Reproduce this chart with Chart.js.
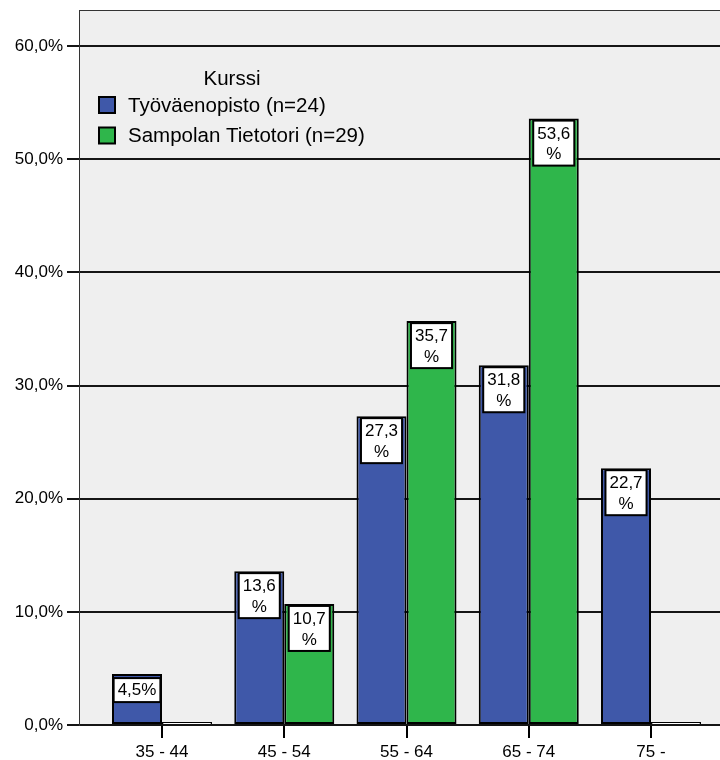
<!DOCTYPE html>
<html>
<head>
<meta charset="utf-8">
<script src="https://cdn.jsdelivr.net/npm/chart.js@4"></script>
<style>
  html, body { margin: 0; padding: 0; background: #fff; overflow: hidden; }
  #wrap { width: 720px; height: 760px; overflow: hidden; }
</style>
</head>
<body>
<div id="wrap"><canvas id="c" width="740" height="760"></canvas></div>
<script>
// Age groups and share of participants (%) per course
const ageGroups = ['35 - 44', '45 - 54', '55 - 64', '65 - 74', '75 -'];
const tyovaenopisto = [4.5, 13.6, 27.3, 31.8, 22.7];
const sampolanTietotori = [0, 10.7, 35.7, 53.6, 0];
const seriesNames = ['Työväenopisto (n=24)', 'Sampolan Tietotori (n=29)'];
const legendTitle = 'Kurssi';
const yTicks = [0, 10, 20, 30, 40, 50, 60];

const FONT = "'Liberation Sans', Arial, Helvetica, sans-serif";
const BLUE = '#3f58a9';
const GREEN = '#2fb64b';
const fmt = v => v.toFixed(1).replace('.', ',');

const isZero = ctx => ctx.raw && ctx.raw.y === 0;

function makeDataset(label, values, color) {
  return {
    label,
    data: values.map((y, i) => ({ x: i, y })),
    backgroundColor: ctx => isZero(ctx) ? '#ffffff' : color,
    legendColor: color,
    borderColor: '#000',
    borderWidth: ctx => isZero(ctx) ? { top: 1.5, left: 1.5, right: 1.5, bottom: 0 } : 2,
    borderSkipped: false,
    minBarLength: 3,
    categoryPercentage: 0.818,
    barPercentage: 1
  };
}

// gray plot background and top frame line
const plotFrame = {
  id: 'plotFrame',
  beforeDraw(chart) {
    const { ctx, chartArea: a } = chart;
    ctx.save();
    ctx.fillStyle = '#efefef';
    ctx.fillRect(a.left, a.top, a.right - a.left, a.bottom - a.top);
    ctx.restore();
  },
  afterDraw(chart) {
    const { ctx, chartArea: a } = chart;
    ctx.save();
    ctx.strokeStyle = '#333';
    ctx.lineWidth = 1;
    ctx.beginPath();
    ctx.moveTo(a.left, a.top + 0.5);
    ctx.lineTo(a.right, a.top + 0.5);
    ctx.stroke();
    ctx.restore();
  }
};

// boxed percentage labels at the top of each bar
const valueBoxes = {
  id: 'valueBoxes',
  afterDatasetsDraw(chart) {
    const { ctx } = chart;
    ctx.save();
    ctx.font = '17px ' + FONT;
    ctx.textAlign = 'center';
    ctx.textBaseline = 'middle';
    chart.data.datasets.forEach((ds, di) => {
      const meta = chart.getDatasetMeta(di);
      meta.data.forEach((bar, i) => {
        const v = ds.data[i].y;
        if (!v) return;
        const txt = fmt(v);
        const one = txt + '%';
        const w1 = ctx.measureText(one).width;
        let lines, w;
        if (w1 + 8 <= bar.width) {
          lines = [one]; w = w1 + 8;
        } else {
          lines = [txt, '%']; w = ctx.measureText(txt).width + 8;
        }
        const h = lines.length === 1 ? 24 : 45;
        const x = bar.x - w / 2;
        const y = lines.length === 1 ? bar.y + 4 : bar.y + 2;
        ctx.fillStyle = '#fff';
        ctx.fillRect(x, y, w, h);
        ctx.strokeStyle = '#000';
        ctx.lineWidth = 2;
        ctx.strokeRect(x, y, w, h);
        ctx.fillStyle = '#000';
        if (lines.length === 1) {
          ctx.fillText(lines[0], bar.x, y + 12.5);
        } else {
          ctx.fillText(lines[0], bar.x, y + 13.5);
          ctx.fillText(lines[1], bar.x, y + 34);
        }
      });
    });
    ctx.restore();
  }
};

// legend drawn inside the plot area
const innerLegend = {
  id: 'innerLegend',
  afterDraw(chart) {
    const { ctx } = chart;
    ctx.save();
    ctx.font = '20.5px ' + FONT;
    ctx.textBaseline = 'middle';
    ctx.fillStyle = '#000';
    ctx.textAlign = 'center';
    ctx.fillText(legendTitle, 232, 79);
    ctx.textAlign = 'left';
    chart.data.datasets.forEach((ds, i) => {
      const cy = 105 + 30.5 * i;
      ctx.fillStyle = ds.legendColor;
      ctx.fillRect(99, cy - 8, 16, 16);
      ctx.strokeStyle = '#000';
      ctx.lineWidth = 2;
      ctx.strokeRect(99, cy - 8, 16, 16);
      ctx.fillStyle = '#000';
      ctx.fillText(ds.label, 128, cy + 1);
    });
    ctx.restore();
  }
};

new Chart(document.getElementById('c'), {
  type: 'bar',
  data: {
    datasets: [
      makeDataset(seriesNames[0], tyovaenopisto, BLUE),
      makeDataset(seriesNames[1], sampolanTietotori, GREEN)
    ]
  },
  options: {
    responsive: false,
    animation: false,
    devicePixelRatio: 1,
    layout: { padding: { top: 10, right: 5, left: 0, bottom: 0 } },
    plugins: { legend: { display: false }, tooltip: { enabled: false } },
    scales: {
      x: {
        type: 'linear',
        min: -0.679,
        max: 4.687,
        offset: false,
        afterBuildTicks: s => { s.ticks = ageGroups.map((_, i) => ({ value: i })); },
        afterFit: s => { s.height = 35; s.paddingLeft = 0; s.paddingRight = 0; },
        ticks: {
          callback: v => ageGroups[v] ?? '',
          font: { size: 17, family: FONT },
          color: '#000',
          padding: 4,
          maxRotation: 0,
          autoSkip: false
        },
        grid: { offset: false, drawOnChartArea: false, drawTicks: true, tickLength: 13, color: '#000', lineWidth: 2 },
        border: { display: false }
      },
      y: {
        min: 0,
        max: 63.2,
        afterBuildTicks: s => { s.ticks = yTicks.map(v => ({ value: v })); },
        afterFit: s => { s.width = 79; s.paddingTop = 0; s.paddingBottom = 0; },
        ticks: {
          callback: v => fmt(v) + '%',
          font: { size: 17, family: FONT },
          color: '#000',
          padding: 4
        },
        grid: { color: '#151515', lineWidth: 2, tickLength: 12, drawTicks: true },
        border: { display: true, color: '#333', width: 1 }
      }
    }
  },
  plugins: [plotFrame, valueBoxes, innerLegend]
});
</script>
</body>
</html>
